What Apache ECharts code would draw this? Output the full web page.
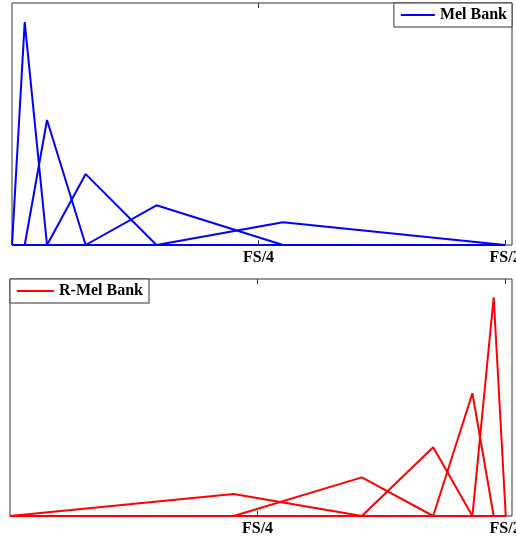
<!DOCTYPE html>
<html>
<head>
<meta charset="utf-8">
<script src="https://cdn.jsdelivr.net/npm/echarts@6/dist/echarts.min.js"></script>
<style>html,body{margin:0;padding:0;background:#fff}#c{width:516px;height:537px}</style>
</head>
<body>
<div id="c"></div>
<script>
// Filter edge frequencies (fraction of FS) and peak heights
const melEdges = [0, 0.0129, 0.0355, 0.0747, 0.1465, 0.2748, 0.4997];
const melPeaks = [0.921, 0.5165, 0.293, 0.164, 0.0938];
const rmelEdges = [0, 0.2259, 0.3554, 0.4274, 0.467, 0.4885, 0.5007];
const rmelPeaks = [0.0928, 0.163, 0.290, 0.518, 0.923];
const tickValues = [0.25, 0.5];
const tickLabels = ['FS/4', 'FS/2'];
const xMax = 0.507;

function bankSeries(edges, peaks, name, color, axisIndex) {
  const out = [];
  const end = edges[edges.length - 1];
  for (let i = 0; i < peaks.length; i++) {
    const pts = [];
    pts.push([0, 0]);
    pts.push([edges[i], 0]);
    pts.push([edges[i + 1], peaks[i]]);
    pts.push([edges[i + 2], 0]);
    pts.push([end, 0]);
    out.push({
      type: 'line', name: name, xAxisIndex: axisIndex, yAxisIndex: axisIndex,
      data: pts, symbol: 'none', clip: false, animation: false,
      lineStyle: { color: color, width: 2 }, itemStyle: { color: color }
    });
  }
  return out;
}

const font = { fontFamily: 'Liberation Serif', fontWeight: 'bold', fontSize: 16, color: '#000' };
function xAx(grid, pos, labels) {
  return {
    type: 'value', gridIndex: grid, position: pos, min: 0, max: xMax,
    axisLine: { show: false }, splitLine: { show: false },
    axisTick: { show: true, inside: true, length: 5, customValues: tickValues, lineStyle: { color: '#333', width: 1 } },
    axisLabel: labels ? Object.assign({
      show: true, margin: 5, customValues: tickValues, hideOverlap: false,
      formatter: v => { const i = tickValues.findIndex(t => Math.abs(t - v) < 1e-9); return i >= 0 ? tickLabels[i] : ''; }
    }, font) : { show: false }
  };
}

const chart = echarts.init(document.getElementById('c'), null, { renderer: 'canvas' });
chart.setOption({
  animation: false,
  backgroundColor: '#fff',
  grid: [
    { left: 12, top: 3, width: 500, height: 242, show: true, borderColor: '#333', borderWidth: 1, backgroundColor: 'transparent', containLabel: false, outerBoundsMode: 'none' },
    { left: 10, top: 279, width: 502, height: 237, show: true, borderColor: '#333', borderWidth: 1, backgroundColor: 'transparent', containLabel: false, outerBoundsMode: 'none' }
  ],
  xAxis: [xAx(0, 'bottom', true), xAx(1, 'bottom', true), xAx(0, 'top', false), xAx(1, 'top', false)],
  yAxis: [
    { type: 'value', gridIndex: 0, min: 0, max: 1, show: false },
    { type: 'value', gridIndex: 1, min: 0, max: 1, show: false }
  ],
  legend: [
    { data: ['Mel Bank'], right: 4, top: 3, orient: 'vertical', icon: 'rect', itemWidth: 34, itemHeight: 2,
      backgroundColor: '#fff', borderColor: '#333', borderWidth: 1, padding: [4, 5, 4, 7],
      textStyle: Object.assign({}, font), selectedMode: false, z: 10 },
    { data: ['R-Mel Bank'], left: 10, top: 279, orient: 'vertical', icon: 'rect', itemWidth: 37, itemHeight: 2,
      backgroundColor: '#fff', borderColor: '#333', borderWidth: 1, padding: [4, 6, 4, 7],
      textStyle: Object.assign({}, font), selectedMode: false, z: 10 }
  ],
  series: [].concat(
    bankSeries(melEdges, melPeaks, 'Mel Bank', '#0000ff', 0),
    bankSeries(rmelEdges, rmelPeaks, 'R-Mel Bank', '#ff0000', 1)
  )
});
</script>
</body>
</html>
